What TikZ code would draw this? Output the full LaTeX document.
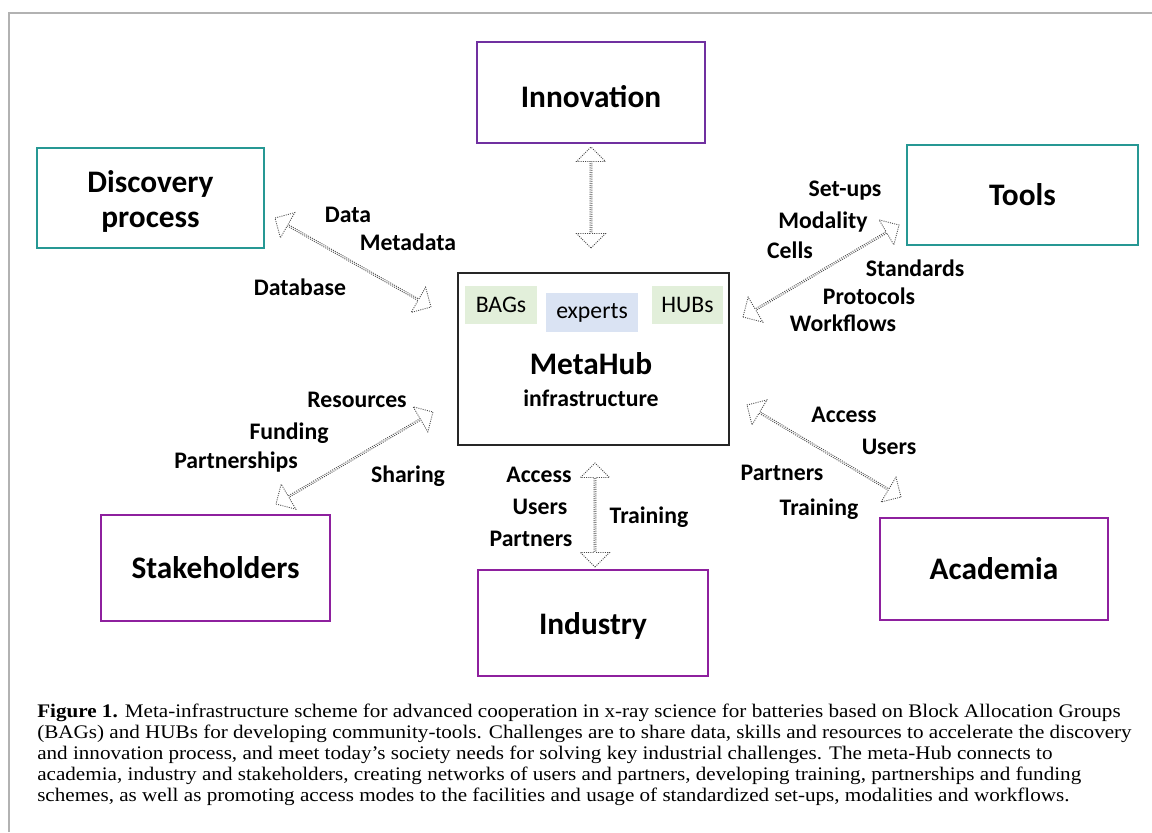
\documentclass[tikz,border=0pt]{standalone}
\usepackage{fontspec}
\setmainfont{Liberation Serif}
\newfontfamily\calib{Carlito}
\newfontfamily\capfont[FakeStretch=1.1]{Liberation Serif}
\usetikzlibrary{shapes.arrows,calc}
\def\pxu{0.75pt}
\definecolor{tealb}{RGB}{38,152,148}
\definecolor{purpA}{RGB}{112,48,160}
\definecolor{purpB}{RGB}{142,32,158}
\definecolor{frameg}{RGB}{178,178,178}
\definecolor{greenbg}{RGB}{226,239,218}
\definecolor{bluebg}{RGB}{218,227,243}
\newcommand\dblarr[2]{%
  \path let \p1=(#1), \p2=(#2), \n1={atan2(\y2-\y1,\x2-\x1)}, \n2={veclen(\x2-\x1,\y2-\y1)} in
    node[darrow, rotate=\n1, minimum height=\n2] at ($(#1)!0.5!(#2)$) {};}
\begin{document}
\begin{tikzpicture}[x=0.75pt,y=-0.75pt,
  bigbox/.style={draw, line width=2.2pt, inner sep=0pt, align=center,
    font=\calib\bfseries\fontsize{23.5}{27}\selectfont},
  tealbox/.style={bigbox, draw=tealb},
  viobox/.style={bigbox, draw=purpA},
  magbox/.style={bigbox, draw=purpB},
  lbl/.style={inner sep=0pt, text height=6.4pt, text depth=0pt, yshift=-3pt,
    font=\calib\bfseries\fontsize{17.8}{21}\selectfont},
  tag/.style={inner sep=0pt, font=\calib\fontsize{17.8}{21}\selectfont},
  darrow/.style={double arrow, draw=black!70, line width=0.65pt,
    dash pattern=on 0.75pt off 0.9pt, minimum width=29*\pxu,
    double arrow head extend=7*\pxu, inner sep=0pt, double arrow tip angle=90},
  capline/.style={anchor=base west, inner sep=0pt, font=\capfont\fontsize{14.4}{17}\selectfont}
]
\useasboundingbox (0,0) rectangle (1152,832);
\fill[white] (0,0) rectangle (1152,832);
\draw[frameg, line width=1.5pt] (9,832) -- (9,13) -- (1152,13);

% main boxes
\node[viobox, minimum width=228*\pxu, minimum height=101*\pxu, text height=21.8pt, text depth=0pt] (inno) at (591,92.5) {Innovation};
\node[tealbox, minimum width=227*\pxu, minimum height=100*\pxu] (disc) at (150.5,198) {\raisebox{-8.9pt}[0pt][0pt]{\parbox{150pt}{\centering\fontsize{23.5}{26.5}\selectfont Discovery\\process}}};
\node[tealbox, minimum width=231*\pxu, minimum height=100*\pxu] (tools) at (1022.5,195) {Tools};
\node[magbox, minimum width=229*\pxu, minimum height=106*\pxu] (stake) at (215.5,568) {Stakeholders};
\node[magbox, minimum width=230*\pxu, minimum height=106*\pxu, text height=16.5pt, text depth=0pt] (indu) at (593,623) {Industry};
\node[magbox, minimum width=228*\pxu, minimum height=102*\pxu] (acad) at (994,569) {Academia};

% center box
\node[draw=black!85, line width=1pt, minimum width=271*\pxu, minimum height=172*\pxu, inner sep=0pt] (hub) at (593.5,359) {};
\node[tag, fill=greenbg, minimum width=72*\pxu, minimum height=38*\pxu] (bags) at (501,304.5) {BAGs};
\node[tag, fill=bluebg, minimum width=92*\pxu, minimum height=39*\pxu] (expe) at (592,312.5) {experts};
\node[tag, fill=greenbg, minimum width=71*\pxu, minimum height=38*\pxu] (hubs) at (687.5,304.5) {HUBs};
\node[inner sep=0pt, text height=6.4pt, text depth=0pt, font=\calib\bfseries\fontsize{23.5}{28}\selectfont] (meta) at (591,370) {MetaHub};
\node[lbl] (infra) at (591,398) {infrastructure};

% arrow end points
\coordinate (a1s) at (591,147);  \coordinate (a1e) at (591,248);
\coordinate (a2s) at (275,218);  \coordinate (a2e) at (431,307);
\coordinate (a3s) at (899,225);  \coordinate (a3e) at (743,317);
\coordinate (a4s) at (433,412);  \coordinate (a4e) at (276,504);
\coordinate (a5s) at (747,405);  \coordinate (a5e) at (901,497);
\coordinate (a6s) at (595,463);  \coordinate (a6e) at (595,567);
\dblarr{a1s}{a1e}
\dblarr{a2s}{a2e}
\dblarr{a3s}{a3e}
\dblarr{a4s}{a4e}
\dblarr{a5s}{a5e}
\dblarr{a6s}{a6e}

% labels
\node[lbl] (l1) at (348,214) {Data};
\node[lbl] (l2) at (408,242) {Metadata};
\node[lbl] (l3) at (300,287) {Database};
\node[lbl] (l4) at (845,188) {Set-ups};
\node[lbl] (l5) at (823,220) {Modality};
\node[lbl] (l6) at (790,250) {Cells};
\node[lbl] (l7) at (915,268) {Standards};
\node[lbl] (l8) at (869,296) {Protocols};
\node[lbl] (l9) at (843,323) {Workflows};
\node[lbl] (l10) at (357,399) {Resources};
\node[lbl] (l11) at (289,431) {Funding};
\node[lbl] (l12) at (236,460) {Partnerships};
\node[lbl] (l13) at (408,474) {Sharing};
\node[lbl] (l14) at (844,414) {Access};
\node[lbl] (l15) at (889,446) {Users};
\node[lbl] (l16) at (782,472) {Partners};
\node[lbl] (l17) at (819,507) {Training};
\node[lbl] (l18) at (539,474) {Access};
\node[lbl] (l19) at (540,506) {Users};
\node[lbl] (l20) at (531,538) {Partners};
\node[lbl] (l21) at (649,515) {Training};

% caption
\node[capline] (c1) at (37,717) {\textbf{Figure 1.} Meta-infrastructure scheme for advanced cooperation in x-ray science for batteries based on Block Allocation Groups};
\node[capline] (c2) at (37,738) {(BAGs) and HUBs for developing community-tools. Challenges are to share data, skills and resources to accelerate the discovery};
\node[capline] (c3) at (37,759) {and innovation process, and meet today’s society needs for solving key industrial challenges. The meta-Hub connects to};
\node[capline] (c4) at (37,780) {academia, industry and stakeholders, creating networks of users and partners, developing training, partnerships and funding};
\node[capline] (c5) at (37,801) {schemes, as well as promoting access modes to the facilities and usage of standardized set-ups, modalities and workflows.};
\end{tikzpicture}
\end{document}
